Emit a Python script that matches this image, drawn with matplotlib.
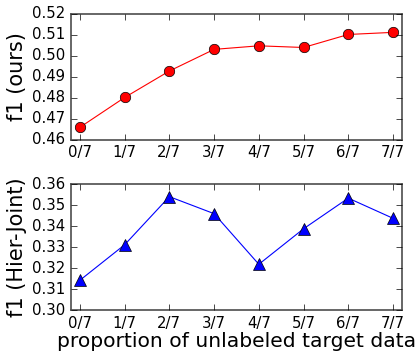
import numpy as np
import matplotlib
matplotlib.use('Agg')
import matplotlib.pyplot as plt

# values
tick_labels = ['0/7', '1/7', '2/7', '3/7', '4/7', '5/7', '6/7', '7/7']
f1_ours = [0.4660, 0.4802, 0.4928, 0.5031, 0.5048, 0.5040, 0.5102, 0.5112]
f1_hier = [0.3142, 0.3311, 0.3540, 0.3459, 0.3218, 0.3387, 0.3533, 0.3437]

plt.style.use('classic')
plt.rcParams['figure.facecolor'] = 'white'
plt.rcParams['savefig.facecolor'] = 'white'

x = np.arange(len(tick_labels))

fig = plt.figure(figsize=(4.2, 3.56), dpi=100)
ax1 = fig.add_axes([0.169, 0.607, 0.788, 0.354])
ax2 = fig.add_axes([0.169, 0.129, 0.788, 0.354])

ax1.plot(x, f1_ours, color='red', marker='o', markersize=7.5,
         markerfacecolor='red', markeredgecolor='black', linewidth=0.8)
ax1.set_ylim(0.46, 0.52)
ax1.set_yticks(np.arange(0.46, 0.5201, 0.01))
ax1.set_ylabel('f1 (ours)', fontsize=15, labelpad=4)

ax2.plot(x, f1_hier, color='blue', marker='^', markersize=8.5,
         markerfacecolor='blue', markeredgecolor='black', linewidth=0.8)
ax2.set_ylim(0.30, 0.36)
ax2.set_yticks(np.arange(0.30, 0.3601, 0.01))
ax2.set_ylabel('f1 (Hier-Joint)', fontsize=15, labelpad=4)
ax2.set_xlabel('proportion of unlabeled target data', fontsize=14.6, labelpad=1)

for ax in (ax1, ax2):
    ax.set_xlim(-0.2, 7.2)
    ax.set_xticks(x)
    ax.set_xticklabels(tick_labels)
    ax.tick_params(labelsize=10.7, pad=4)
    ax.yaxis.set_major_formatter(matplotlib.ticker.FormatStrFormatter('%.2f'))
    for s in ax.spines.values():
        s.set_color('0.3')
        s.set_linewidth(1.2)

fig.savefig('out.png', dpi=100)
